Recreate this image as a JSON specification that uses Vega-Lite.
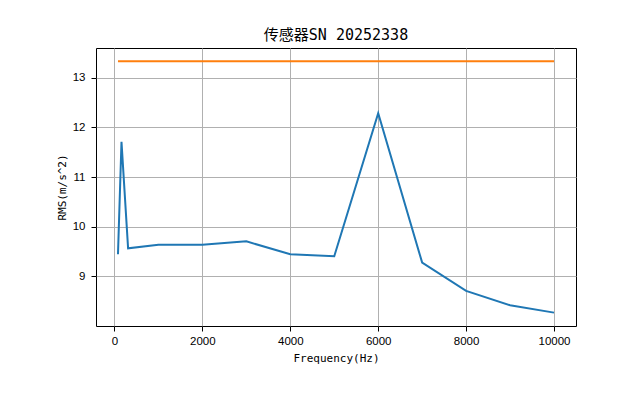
{
  "$schema": "https://vega.github.io/schema/vega-lite/v6.json",
  "autosize": "none",
  "width": 480,
  "height": 278,
  "padding": {"left": 96, "top": 48, "right": 64, "bottom": 81},
  "background": "white",
  "title": {
    "text": "传感器SN 20252338",
    "font": "DejaVu Sans Mono, Noto Sans CJK SC",
    "fontSize": 15,
    "fontWeight": "normal",
    "color": "black",
    "offset": 5
  },
  "config": {
    "view": {"stroke": "black", "strokeWidth": 1},
    "axis": {
      "domain": false,
      "gridColor": "#b0b0b0",
      "gridWidth": 1,
      "gridOpacity": 1,
      "tickColor": "black",
      "tickSize": 5,
      "tickWidth": 1,
      "labelFont": "Liberation Sans",
      "labelFontSize": 11.5,
      "labelColor": "black",
      "titleFont": "DejaVu Sans Mono, Noto Sans CJK SC",
      "titleFontSize": 11,
      "titleFontWeight": "normal",
      "titleColor": "black"
    }
  },
  "data": {
    "values": [
      {"freq": 80, "rms": 9.44, "series": "RMS"},
      {"freq": 160, "rms": 11.71, "series": "RMS"},
      {"freq": 310, "rms": 9.56, "series": "RMS"},
      {"freq": 1000, "rms": 9.63, "series": "RMS"},
      {"freq": 2000, "rms": 9.63, "series": "RMS"},
      {"freq": 3000, "rms": 9.70, "series": "RMS"},
      {"freq": 4000, "rms": 9.44, "series": "RMS"},
      {"freq": 5000, "rms": 9.40, "series": "RMS"},
      {"freq": 6000, "rms": 12.29, "series": "RMS"},
      {"freq": 7000, "rms": 9.27, "series": "RMS"},
      {"freq": 8000, "rms": 8.70, "series": "RMS"},
      {"freq": 9000, "rms": 8.41, "series": "RMS"},
      {"freq": 10000, "rms": 8.26, "series": "RMS"},
      {"freq": 80, "rms": 13.34, "series": "Limit"},
      {"freq": 10000, "rms": 13.34, "series": "Limit"}
    ]
  },
  "mark": {"type": "line", "strokeWidth": 2, "clip": true},
  "encoding": {
    "x": {
      "field": "freq",
      "type": "quantitative",
      "title": "Frequency(Hz)",
      "scale": {"domain": [-420, 10500], "nice": false, "zero": false},
      "axis": {"values": [0, 2000, 4000, 6000, 8000, 10000], "format": "d", "labelPadding": 4, "titlePadding": 6, "labelFlush": false}
    },
    "y": {
      "field": "rms",
      "type": "quantitative",
      "title": "RMS(m/s^2)",
      "scale": {"domain": [7.99, 13.606], "nice": false, "zero": false},
      "axis": {"values": [9, 10, 11, 12, 13], "format": "d", "labelPadding": 6, "titlePadding": 5, "labelFlush": false}
    },
    "color": {
      "field": "series",
      "type": "nominal",
      "scale": {"domain": ["RMS", "Limit"], "range": ["#1f77b4", "#ff7f0e"]},
      "legend": null
    }
  }
}
